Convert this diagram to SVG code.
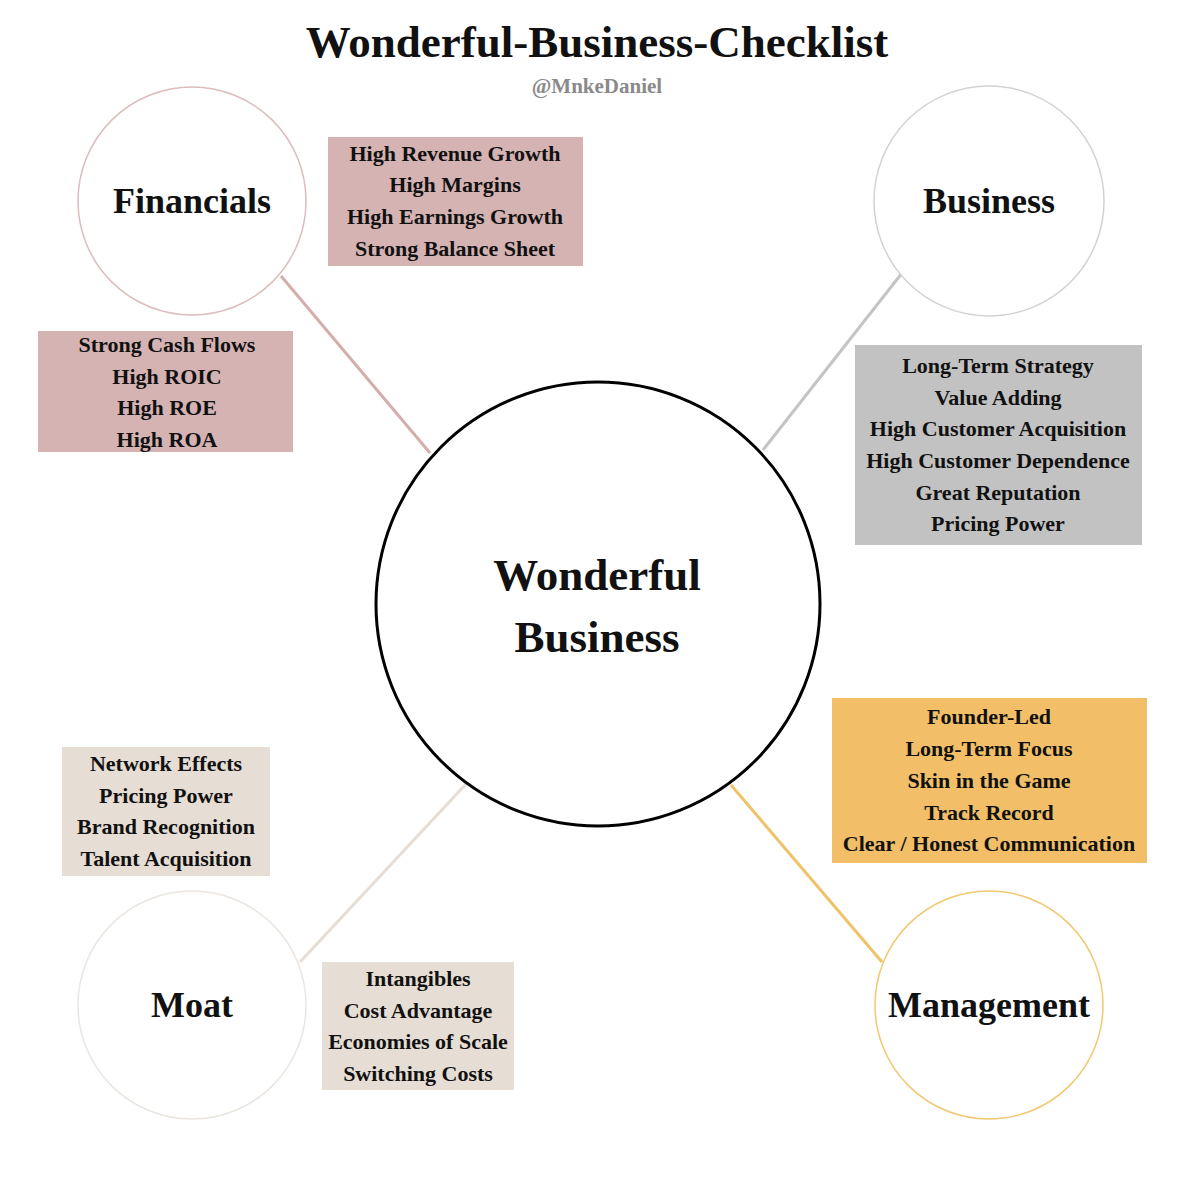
<svg xmlns="http://www.w3.org/2000/svg" width="1200" height="1193" viewBox="0 0 1200 1193">
<style>
text{font-family:"Liberation Serif","DejaVu Serif",serif;font-weight:bold;fill:#111;text-anchor:middle}
.item{font-size:22px}
.lbl{font-size:36px}
.sat{fill:#fff;stroke-width:1.5}
</style>
<rect width="1200" height="1193" fill="#fff"/>
<text x="597" y="57" font-size="45">Wonderful-Business-Checklist</text>
<text x="597" y="93" font-size="21" style="fill:#8a8a8a">@MnkeDaniel</text>
<g id="connectors" stroke-width="3" fill="none">
<line x1="281" y1="276" x2="430" y2="453" stroke="#d4adad"/>
<line x1="902" y1="273" x2="763" y2="450" stroke="#c4c4c4"/>
<line x1="300" y1="962" x2="466" y2="784" stroke="#e6ddd5"/>
<line x1="731" y1="785" x2="882" y2="962" stroke="#efc36a"/>
</g>
<g id="center">
<circle cx="598" cy="604" r="222" fill="#fff" stroke="#000" stroke-width="3"/>
<text x="597" y="590" font-size="45">Wonderful</text>
<text x="597" y="652" font-size="45">Business</text>
</g>
<g id="financials">
<circle class="sat" cx="192" cy="201" r="114" stroke="#dcbcbc"/>
<text class="lbl" x="192" y="213">Financials</text>
</g>
<g id="financials-list-1">
<rect x="328" y="137" width="255" height="129" fill="#d5b3b3"/>
<text class="item" x="455" y="161">High Revenue Growth</text>
<text class="item" x="455" y="192">High Margins</text>
<text class="item" x="455" y="224">High Earnings Growth</text>
<text class="item" x="455" y="256">Strong Balance Sheet</text>
</g>
<g id="financials-list-2">
<rect x="38" y="331" width="255" height="121" fill="#d5b3b3"/>
<text class="item" x="167" y="352">Strong Cash Flows</text>
<text class="item" x="167" y="384">High ROIC</text>
<text class="item" x="167" y="415">High ROE</text>
<text class="item" x="167" y="447">High ROA</text>
</g>
<g id="business">
<circle class="sat" cx="989" cy="201" r="115" stroke="#d2d2d2"/>
<text class="lbl" x="989" y="213">Business</text>
</g>
<g id="business-list">
<rect x="855" y="345" width="287" height="200" fill="#c2c2c2"/>
<text class="item" x="998" y="373">Long-Term Strategy</text>
<text class="item" x="998" y="405">Value Adding</text>
<text class="item" x="998" y="436">High Customer Acquisition</text>
<text class="item" x="998" y="468">High Customer Dependence</text>
<text class="item" x="998" y="500">Great Reputation</text>
<text class="item" x="998" y="531">Pricing Power</text>
</g>
<g id="management">
<circle class="sat" cx="989" cy="1005" r="114" stroke="#f0c870"/>
<text class="lbl" x="989" y="1017">Management</text>
</g>
<g id="management-list">
<rect x="832" y="698" width="315" height="165" fill="#f2bf68"/>
<text class="item" x="989" y="724">Founder-Led</text>
<text class="item" x="989" y="756">Long-Term Focus</text>
<text class="item" x="989" y="788">Skin in the Game</text>
<text class="item" x="989" y="820">Track Record</text>
<text class="item" x="989" y="851">Clear / Honest Communication</text>
</g>
<g id="moat">
<circle class="sat" cx="192" cy="1005" r="114" stroke="#ebe5df"/>
<text class="lbl" x="192" y="1017">Moat</text>
</g>
<g id="moat-list-1">
<rect x="62" y="747" width="208" height="129" fill="#e6ddd4"/>
<text class="item" x="166" y="771">Network Effects</text>
<text class="item" x="166" y="803">Pricing Power</text>
<text class="item" x="166" y="834">Brand Recognition</text>
<text class="item" x="166" y="866">Talent Acquisition</text>
</g>
<g id="moat-list-2">
<rect x="322" y="962" width="192" height="128" fill="#e6ddd4"/>
<text class="item" x="418" y="986">Intangibles</text>
<text class="item" x="418" y="1018">Cost Advantage</text>
<text class="item" x="418" y="1049">Economies of Scale</text>
<text class="item" x="418" y="1081">Switching Costs</text>
</g>
</svg>
